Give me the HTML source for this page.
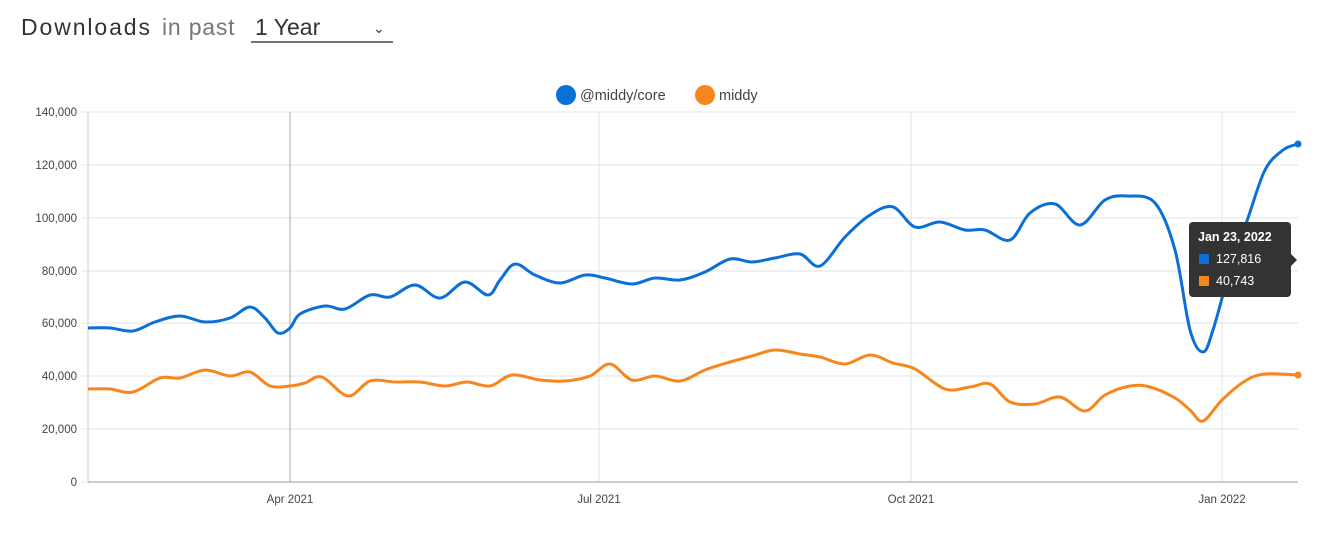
<!DOCTYPE html>
<html><head><meta charset="utf-8"><style>
body{margin:0;background:#fff;width:1327px;height:550px;overflow:hidden;font-family:"Liberation Sans",sans-serif}
</style></head><body>
<svg width="1327" height="550" xmlns="http://www.w3.org/2000/svg" font-family="Liberation Sans, sans-serif">
<text x="21" y="35" font-size="23" fill="#333" letter-spacing="1.9">Downloads</text>
<text x="162" y="35" font-size="23" fill="#777" letter-spacing="0.8">in past</text>
<text x="255" y="35" font-size="23" fill="#333">1 Year</text>
<text x="373" y="33" font-size="14" fill="#333">⌄</text>
<line x1="251" y1="42" x2="393" y2="42" stroke="#222" stroke-width="1.2"/>
<circle cx="566" cy="95" r="10" fill="#0a6fd6"/>
<text x="580" y="100" font-size="14.5" fill="#444">@middy/core</text>
<circle cx="705" cy="95" r="10" fill="#f7861d"/>
<text x="719" y="100" font-size="14.5" fill="#444">middy</text>
<g stroke="#e3e3e3" stroke-width="1">
<line x1="88" y1="112" x2="1298" y2="112"/><line x1="88" y1="165" x2="1298" y2="165"/>
<line x1="88" y1="218" x2="1298" y2="218"/><line x1="88" y1="271" x2="1298" y2="271"/>
<line x1="88" y1="323" x2="1298" y2="323"/><line x1="88" y1="376" x2="1298" y2="376"/>
<line x1="88" y1="429" x2="1298" y2="429"/>
<line x1="599" y1="112" x2="599" y2="482"/><line x1="911" y1="112" x2="911" y2="482"/><line x1="1222" y1="112" x2="1222" y2="482"/>
<line x1="82" y1="112" x2="88" y2="112"/><line x1="82" y1="165" x2="88" y2="165"/><line x1="82" y1="218" x2="88" y2="218"/><line x1="82" y1="271" x2="88" y2="271"/><line x1="82" y1="323" x2="88" y2="323"/><line x1="82" y1="376" x2="88" y2="376"/><line x1="82" y1="429" x2="88" y2="429"/><line x1="82" y1="482" x2="88" y2="482"/>
</g>
<line x1="290" y1="112" x2="290" y2="482" stroke="#aaa"/>
<line x1="88" y1="112" x2="88" y2="482" stroke="#ccc"/>
<line x1="88" y1="482" x2="1298" y2="482" stroke="#999"/>
<g font-size="11.5" fill="#444" text-anchor="end">
<text x="77" y="116">140,000</text><text x="77" y="169">120,000</text><text x="77" y="222">100,000</text>
<text x="77" y="275">80,000</text><text x="77" y="327">60,000</text><text x="77" y="380">40,000</text>
<text x="77" y="433">20,000</text><text x="77" y="486">0</text>
</g>
<g font-size="11.5" fill="#444" text-anchor="middle">
<text x="290" y="503">Apr 2021</text><text x="599" y="503">Jul 2021</text><text x="911" y="503">Oct 2021</text><text x="1222" y="503">Jan 2022</text>
</g>
<path id="b" fill="none" stroke="#0a6fd6" stroke-width="3"/>
<path id="o" fill="none" stroke="#f7861d" stroke-width="3"/>
<circle cx="1298" cy="144" r="3.5" fill="#0a6fd6"/>
<circle cx="1298" cy="375" r="3.5" fill="#f7861d"/>
<rect x="1189" y="222" width="102" height="75" rx="4" fill="#333"/>
<path d="M1291 254 L1297 260 L1291 266Z" fill="#333"/>
<text x="1198" y="241" font-size="12.5" font-weight="bold" fill="#fff">Jan 23, 2022</text>
<rect x="1199" y="254" width="10" height="10" fill="#0a6fd6"/>
<text x="1216" y="263" font-size="12.5" fill="#fff">127,816</text>
<rect x="1199" y="276" width="10" height="10" fill="#f7861d"/>
<text x="1216" y="285" font-size="12.5" fill="#fff">40,743</text>
</svg>
<script>
function cr(p){let d="M"+p[0][0]+" "+p[0][1];for(let i=0;i<p.length-1;i++){const a=p[i-1]||p[i],b=p[i],c=p[i+1],e=p[i+2]||c;d+=" C"+(b[0]+(c[0]-a[0])/6)+" "+(b[1]+(c[1]-a[1])/6)+" "+(c[0]-(e[0]-b[0])/6)+" "+(c[1]-(e[1]-b[1])/6)+" "+c[0]+" "+c[1];}return d;}
const B=[[88,328],[110,328],[133,331],[155,322],[180,316],[205,322],[230,318],[250,307],[265,318],[278,333],[290,328],[300,314],[325,306],[345,309],[370,295],[390,297],[415,285],[440,298],[465,282],[488,295],[500,280],[515,264],[535,275],[560,283],[585,275],[605,278],[632,284],[655,278],[680,280],[705,272],[730,259],[752,262],[775,258],[800,254],[820,266],[845,237],[870,215],[893,207],[915,227],[940,222],[965,230],[985,230],[1010,240],[1030,213],[1055,204],[1080,225],[1105,200],[1128,196],[1155,203],[1175,250],[1190,330],[1203,352],[1213,330],[1230,270],[1248,218],[1265,170],[1283,150],[1298,144]];
const O=[[88,389],[110,389],[133,392],[160,378],[180,378],[205,370],[230,376],[250,372],[270,386],[290,386],[305,383],[322,377],[348,396],[370,381],[395,382],[420,382],[445,386],[467,382],[490,386],[512,375],[540,380],[565,381],[590,376],[610,364],[632,380],[655,376],[680,381],[705,370],[730,362],[752,356],[775,350],[800,354],[820,357],[845,364],[870,355],[893,363],[915,369],[945,389],[970,387],[990,384],[1010,402],[1035,404],[1060,397],[1085,411],[1105,395],[1130,386],[1150,387],[1175,398],[1190,410],[1203,421],[1222,400],[1245,381],[1265,374],[1298,375]];
document.getElementById("b").setAttribute("d",cr(B));
document.getElementById("o").setAttribute("d",cr(O));
</script>
</body></html>
